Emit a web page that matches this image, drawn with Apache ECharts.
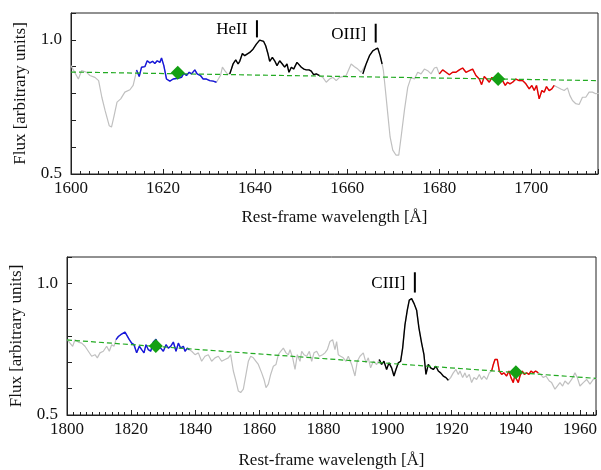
<!DOCTYPE html>
<html>
<head>
<meta charset="utf-8">
<script src="https://cdn.jsdelivr.net/npm/echarts@6/dist/echarts.min.js"></script>
<style>
  html, body { margin: 0; padding: 0; background: #fff; }
  #chart { width: 601px; height: 470px; }
</style>
</head>
<body>
<div id="chart"></div>
<script>
// ---- top panel: HeII / OIII] region ----
const topGrayA = [[1600.0,0.904],[1601.6,0.854],[1602.3,0.885],[1603.4,0.879],[1604.1,0.867],[1605.2,0.860],[1606.0,0.848],[1606.7,0.786],[1607.4,0.737],[1608.3,0.680],[1608.8,0.675],[1609.3,0.712],[1610.0,0.768],[1610.8,0.780],[1611.7,0.805],[1612.8,0.814],[1613.5,0.830],[1614.1,0.873],[1614.24,0.888]]
const topBlue = [[1614.24,0.888],[1614.82,0.863],[1615.33,0.898],[1616.05,0.900],[1616.56,0.922],[1617.14,0.914],[1617.72,0.920],[1618.22,0.912],[1618.73,0.922],[1619.31,0.916],[1619.67,0.932],[1620.17,0.904],[1620.75,0.854],[1621.48,0.846],[1622.20,0.854],[1623.28,0.857],[1624.01,0.860],[1624.51,0.875],[1625.09,0.867],[1625.67,0.879],[1626.18,0.873],[1626.90,0.888],[1627.40,0.873],[1628.13,0.867],[1628.71,0.854],[1629.43,0.854],[1630.15,0.848],[1630.88,0.846],[1631.60,0.842]]
const topGrayB = [[1631.60,0.842],[1631.96,0.848],[1632.47,0.867],[1632.90,0.898],[1633.41,0.885],[1633.98,0.873],[1634.49,0.873]]
const topHeII = [[1634.49,0.873],[1634.85,0.891],[1635.21,0.910],[1635.79,0.925],[1636.30,0.910],[1636.66,0.920],[1637.24,0.949],[1637.74,0.941],[1638.25,0.947],[1638.83,0.953],[1639.55,0.965],[1640.27,0.984],[1640.99,0.999],[1641.36,1.000],[1641.86,0.994],[1642.30,0.978],[1642.81,0.947],[1643.17,0.920],[1643.75,0.935],[1644.25,0.922],[1644.76,0.904],[1645.34,0.922],[1645.91,0.910],[1646.42,0.898],[1646.93,0.910],[1647.36,0.879],[1647.87,0.898],[1648.37,0.891],[1649.10,0.916],[1649.53,0.916],[1650.04,0.898],[1650.61,0.891],[1651.12,0.888],[1651.70,0.888],[1652.21,0.883],[1652.71,0.870],[1653.29,0.873],[1654.01,0.867]]
const topGrayC = [[1654.01,0.867],[1654.72,0.860],[1655.45,0.842],[1656.17,0.854],[1656.89,0.860],[1657.62,0.848],[1658.34,0.860],[1659.06,0.863],[1659.78,0.867],[1660.87,0.910],[1661.59,0.900],[1662.32,0.891],[1663.04,0.879],[1663.40,0.873]]
const topOIII = [[1663.40,0.873],[1664.12,0.910],[1664.85,0.941],[1665.57,0.959],[1666.15,0.965],[1666.65,0.969],[1667.16,0.941],[1667.59,0.910]]
const topGrayD = [[1667.59,0.910],[1667.88,0.885],[1668.32,0.811],[1668.82,0.725],[1669.33,0.638],[1669.91,0.589],[1670.63,0.570],[1671.21,0.570],[1671.72,0.638],[1672.44,0.737],[1673.16,0.823],[1673.88,0.860],[1674.61,0.854],[1675.33,0.879],[1676.05,0.873],[1676.78,0.891],[1677.50,0.885],[1678.22,0.873],[1678.95,0.895],[1679.45,0.898],[1680.03,0.873]]
const topRed = [[1680.03,0.873],[1680.75,0.888],[1681.48,0.879],[1682.20,0.870],[1682.92,0.879],[1683.65,0.879],[1684.37,0.888],[1685.09,0.895],[1685.81,0.879],[1686.54,0.885],[1687.26,0.891],[1687.98,0.867],[1688.71,0.854],[1689.21,0.833],[1689.79,0.863],[1690.30,0.854],[1690.88,0.842],[1691.45,0.860],[1691.96,0.848],[1692.47,0.860],[1693.05,0.854],[1693.77,0.848],[1694.35,0.830],[1694.85,0.842],[1695.36,0.836],[1695.94,0.842],[1696.66,0.854],[1697.38,0.848],[1698.11,0.848],[1698.83,0.836],[1699.55,0.817],[1700.13,0.830],[1700.64,0.811],[1701.14,0.830],[1701.72,0.780],[1702.30,0.811],[1702.81,0.805],[1703.31,0.826],[1703.89,0.811],[1704.47,0.817],[1704.98,0.830]]
const topGrayE = [[1704.98,0.830],[1705.70,0.823],[1706.42,0.817],[1707.15,0.811],[1707.87,0.821],[1708.38,0.793],[1708.95,0.774],[1709.68,0.762],[1710.40,0.759],[1711.12,0.786],[1711.85,0.786],[1712.57,0.805],[1713.29,0.805],[1714.01,0.799],[1714.74,0.801]]
const topFit = [[1600, 0.880], [1714.5, 0.848]]
const topWindows = [[1623.2, 0.877], [1692.8, 0.854]]
const topLines = [['HeII', 1640.4, 1.009, 1.073, 1.038], ['OIII]', 1666.2, 0.990, 1.060, 1.021]]

// ---- bottom panel: CIII] region ----
const botGrayA = [[1800.10,0.786],[1800.94,0.773],[1801.77,0.761],[1802.50,0.786],[1803.54,0.777],[1804.57,0.773],[1805.61,0.761],[1806.65,0.742],[1807.69,0.723],[1808.73,0.729],[1809.46,0.717],[1810.29,0.736],[1811.33,0.742],[1812.37,0.761],[1813.20,0.742],[1813.93,0.767],[1814.66,0.761],[1815.28,0.786]]
const botBlue = [[1815.28,0.786],[1816.01,0.798],[1816.74,0.805],[1817.36,0.798],[1818.09,0.815],[1818.61,0.817],[1819.44,0.786],[1820.17,0.773],[1820.90,0.767],[1821.73,0.736],[1822.56,0.761],[1823.29,0.748],[1824.02,0.736],[1824.64,0.767],[1825.37,0.748],[1826.10,0.742],[1826.93,0.777],[1827.76,0.788],[1828.49,0.761],[1829.22,0.754],[1830.05,0.742],[1830.88,0.767],[1831.61,0.754],[1832.34,0.761],[1833.17,0.777],[1834.00,0.742],[1834.73,0.773],[1835.45,0.754],[1836.29,0.761],[1836.81,0.742],[1837.53,0.754],[1838.16,0.748]]
const botGrayB = [[1838.16,0.748],[1838.89,0.742],[1839.93,0.729],[1840.97,0.736],[1842.00,0.704],[1843.04,0.723],[1844.08,0.729],[1845.12,0.704],[1846.16,0.717],[1847.20,0.723],[1848.24,0.704],[1849.28,0.711],[1850.32,0.717],[1851.05,0.729],[1851.88,0.667],[1852.71,0.629],[1853.44,0.591],[1854.17,0.585],[1855.00,0.598],[1855.83,0.654],[1856.56,0.704],[1857.29,0.723],[1858.12,0.717],[1858.95,0.704],[1859.68,0.692],[1860.72,0.660],[1861.45,0.635],[1862.07,0.604],[1862.80,0.617],[1863.53,0.654],[1864.36,0.685],[1865.19,0.692],[1865.92,0.729],[1866.65,0.742],[1867.48,0.754],[1868.31,0.736],[1869.04,0.729],[1869.56,0.748],[1870.39,0.717],[1871.12,0.673],[1871.84,0.729],[1872.68,0.704],[1873.20,0.742],[1873.92,0.729],[1874.76,0.723],[1875.59,0.742],[1876.32,0.704],[1877.04,0.736],[1877.88,0.742],[1878.71,0.723],[1879.73,0.729],[1880.46,0.736],[1881.19,0.748],[1882.02,0.779],[1882.85,0.786],[1883.58,0.748],[1884.10,0.779],[1884.62,0.729],[1885.35,0.723],[1886.18,0.717],[1887.01,0.704],[1887.74,0.723],[1888.78,0.692],[1889.82,0.648],[1890.54,0.704],[1891.38,0.723],[1892.42,0.736],[1893.25,0.698],[1893.98,0.717],[1894.70,0.679],[1895.54,0.704],[1896.58,0.692],[1897.41,0.711]]
const botCIII = [[1897.41,0.711],[1898.13,0.692],[1898.86,0.704],[1899.69,0.673],[1900.42,0.698],[1901.25,0.679],[1901.98,0.648],[1902.61,0.673],[1903.33,0.698],[1904.06,0.704],[1904.69,0.754],[1905.41,0.842],[1906.14,0.898],[1906.76,0.936],[1907.49,0.942],[1908.22,0.924],[1909.05,0.898],[1909.78,0.830],[1910.61,0.773],[1911.34,0.729],[1911.96,0.654],[1912.69,0.692],[1913.42,0.679],[1914.25,0.673],[1915.08,0.685],[1915.81,0.667],[1916.54,0.660],[1917.37,0.648],[1918.20,0.642],[1918.93,0.632]]
const botGrayC = [[1918.93,0.632],[1919.66,0.642],[1920.49,0.660],[1921.32,0.673],[1922.05,0.654],[1922.57,0.667],[1923.40,0.642],[1924.13,0.660],[1924.65,0.642],[1925.48,0.654],[1926.21,0.623],[1926.94,0.642],[1927.77,0.635],[1928.60,0.654],[1929.33,0.635],[1930.05,0.648],[1930.89,0.635],[1931.72,0.660],[1932.45,0.667]]
const botRed = [[1932.45,0.667],[1932.97,0.692],[1933.49,0.711],[1934.21,0.711],[1934.84,0.667],[1935.57,0.654],[1936.29,0.660],[1937.12,0.648],[1937.85,0.667],[1938.48,0.642],[1939.20,0.623],[1939.72,0.654],[1940.24,0.635],[1940.76,0.623],[1941.28,0.648],[1942.01,0.667],[1942.64,0.654],[1943.36,0.660],[1944.09,0.654],[1944.71,0.667],[1945.44,0.660],[1946.17,0.667],[1947.00,0.660]]
const botGrayD = [[1947.00,0.660],[1947.73,0.654],[1948.56,0.642],[1949.39,0.648],[1950.43,0.629],[1951.16,0.623],[1952.20,0.598],[1952.93,0.610],[1953.76,0.623],[1954.59,0.610],[1955.32,0.629],[1956.36,0.617],[1957.40,0.635],[1958.44,0.660],[1959.17,0.642],[1960.00,0.610],[1961.04,0.623],[1962.08,0.635],[1963.12,0.617],[1964.16,0.635],[1965.20,0.639]]
const botFit = [[1800, 0.785], [1965, 0.639]]
const botWindows = [[1827.7, 0.762], [1940.0, 0.662]]
const botLines = [['CIII]', 1908.5, 0.965, 1.042, 1.0]]

const FONT = 'Liberation Serif, DejaVu Serif, serif'
const GRAY = '#c0c0c0'
const GREEN = '#22aa22'

function xAxisCfg(gridIndex, min, max, gap) {
  return {
    type: 'value', gridIndex, min, max, interval: 20,
    name: 'Rest-frame wavelength [Å]', nameLocation: 'middle', nameGap: gap,
    nameTextStyle: { fontFamily: FONT, fontSize: 17, color: '#111' },
    axisLine: { lineStyle: { color: '#222', width: 1 } },
    axisTick: { inside: true, length: 5, lineStyle: { color: '#222' } },
    minorTick: { show: true, splitNumber: 10, length: 3, lineStyle: { color: '#222' } },
    axisLabel: { fontFamily: FONT, fontSize: 17, color: '#111', margin: 6,
      formatter: v => (v < max - 0.01 ? String(v) : '') },
    splitLine: { show: false }
  }
}

function yAxisCfg(gridIndex) {
  return {
    type: 'value', gridIndex, min: 0.5, max: 1.1, interval: 0.1,
    name: 'Flux [arbitrary units]', nameLocation: 'middle', nameGap: 42,
    nameTextStyle: { fontFamily: FONT, fontSize: 17, color: '#111' },
    axisLine: { lineStyle: { color: '#222', width: 1 } },
    axisTick: { inside: true, length: 5, lineStyle: { color: '#222' } },
    axisLabel: { fontFamily: FONT, fontSize: 17, color: '#111', margin: 9,
      formatter: v => (Math.abs(v - 0.5) < 1e-6 || Math.abs(v - 1) < 1e-6 ? v.toFixed(1) : '') },
    splitLine: { show: false }
  }
}

function lineSeries(idx, data, color, width) {
  return {
    type: 'line', xAxisIndex: idx, yAxisIndex: idx, data,
    symbol: 'none', lineStyle: { color, width }, z: 3, silent: true
  }
}

function panelSeries(idx, grays, blue, blacks, red, fit, windows, lines) {
  const out = []
  out.push(lineSeries(idx, [].concat(...grays), GRAY, 1.2))
  out.push({
    type: 'line', xAxisIndex: idx, yAxisIndex: idx, data: fit, symbol: 'none', z: 4,
    lineStyle: { color: GREEN, width: 1.2, type: [5, 3] }
  })
  out.push(lineSeries(idx, blue, '#1515dd', 1.4))
  blacks.forEach(b => out.push(lineSeries(idx, b, '#000', 1.4)))
  out.push(lineSeries(idx, red, '#e80000', 1.4))
  out.push({
    type: 'scatter', xAxisIndex: idx, yAxisIndex: idx, data: windows,
    symbol: 'diamond', symbolSize: 14, itemStyle: { color: '#14a014', opacity: 1 }, z: 6
  })
  lines.forEach(([name, wl, y0, y1, ty]) => {
    out.push(lineSeries(idx, [[wl, y0], [wl, y1]], '#000', 2))
    out.push({
      type: 'scatter', xAxisIndex: idx, yAxisIndex: idx, data: [[wl, ty]],
      symbol: 'circle', symbolSize: 1, itemStyle: { color: '#fff', opacity: 0 },
      label: { show: true, position: 'left', distance: 9, formatter: name, opacity: 1,
        fontFamily: FONT, fontSize: 17, color: '#000' }
    })
  })
  return out
}

const chart = echarts.init(document.getElementById('chart'))
chart.setOption({
  animation: false,
  backgroundColor: '#fff',
  grid: [
    { left: 71, top: 13, width: 528, height: 161, show: true, borderColor: '#222', borderWidth: 1, containLabel: false },
    { left: 67, top: 257, width: 529, height: 159, show: true, borderColor: '#222', borderWidth: 1, containLabel: false }
  ],
  xAxis: [xAxisCfg(0, 1600, 1714.5, 35), xAxisCfg(1, 1800, 1965, 37)],
  yAxis: [yAxisCfg(0), yAxisCfg(1)],
  series: [
    ...panelSeries(0, [topGrayA, topBlue, topGrayB, topHeII, topGrayC, topOIII, topGrayD, topRed, topGrayE],
      topBlue, [topHeII, topOIII], topRed, topFit, topWindows, topLines),
    ...panelSeries(1, [botGrayA, botBlue, botGrayB, botCIII, botGrayC, botRed, botGrayD],
      botBlue, [botCIII], botRed, botFit, botWindows, botLines)
  ]
})
</script>
</body>
</html>
